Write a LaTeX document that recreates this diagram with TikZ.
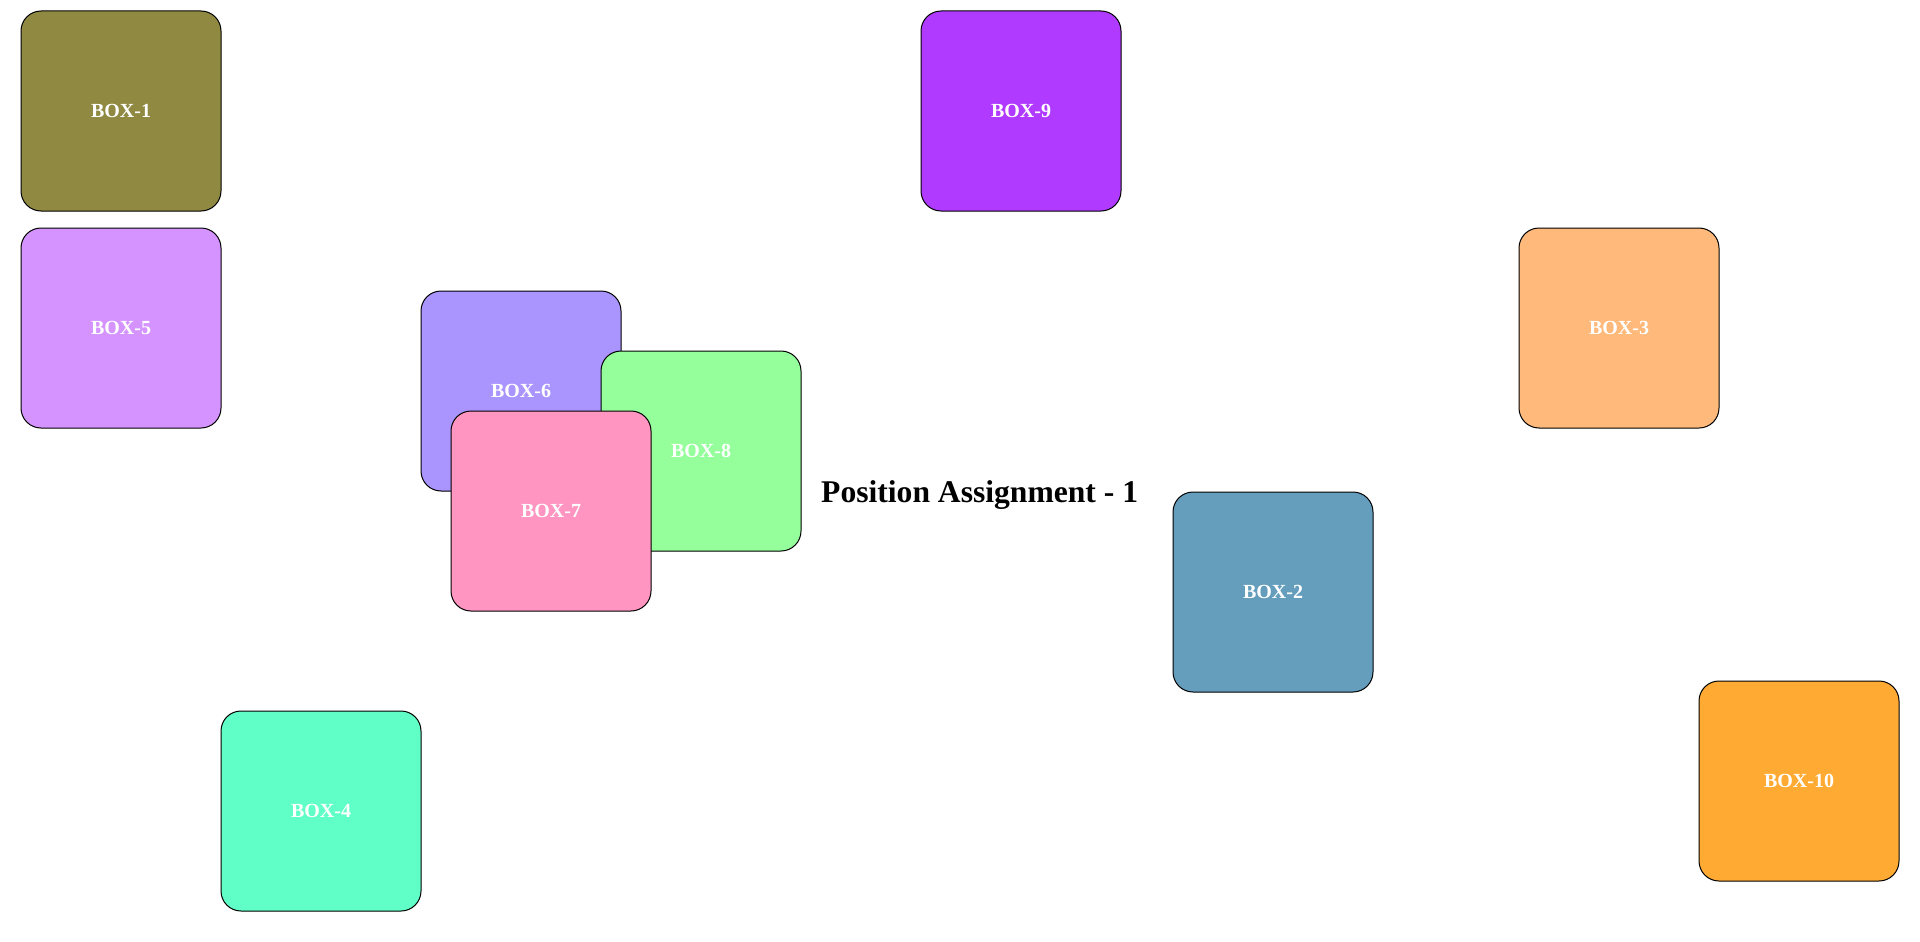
\documentclass[tikz,border=0pt]{standalone}
\usepackage{fontspec}
\setmainfont{Liberation Serif}
\definecolor{c1}{RGB}{143,137,66}
\definecolor{c2}{RGB}{101,158,189}
\definecolor{c3}{RGB}{255,185,122}
\definecolor{c4}{RGB}{96,255,200}
\definecolor{c5}{RGB}{213,147,255}
\definecolor{c6}{RGB}{170,149,255}
\definecolor{c7}{RGB}{255,149,192}
\definecolor{c8}{RGB}{149,255,155}
\definecolor{c9}{RGB}{176,58,255}
\definecolor{c10}{RGB}{255,171,51}
\tikzset{
  boxnode/.style={draw=black, line width=1pt, rounded corners=20pt, minimum width=200pt, minimum height=200pt, inner sep=0pt, text=white, font=\fontsize{20}{24}\selectfont\bfseries},
  titlenode/.style={anchor=base west, inner sep=0pt, font=\fontsize{31.6}{38}\selectfont\bfseries}
}
\newcommand{\boxlabel}[1]{\raisebox{-1.2pt}{#1}}
\begin{document}
\begin{tikzpicture}[x=1pt,y=-1pt]
\useasboundingbox (0,0) rectangle (1920,942);
\node[boxnode, fill=c1] (b1) at (121,111) {\boxlabel{BOX-1}};
\node[boxnode, fill=c5] (b5) at (121,328) {\boxlabel{BOX-5}};
\node[boxnode, fill=c9] (b9) at (1021,111) {\boxlabel{BOX-9}};
\node[boxnode, fill=c3] (b3) at (1619,328) {\boxlabel{BOX-3}};
\node[boxnode, fill=c6] (b6) at (521,391) {\boxlabel{BOX-6}};
\node[boxnode, fill=c8] (b8) at (701,451) {\boxlabel{BOX-8}};
\node[boxnode, fill=c7] (b7) at (551,511) {\boxlabel{BOX-7}};
\node[boxnode, fill=c2] (b2) at (1273,592) {\boxlabel{BOX-2}};
\node[boxnode, fill=c10] (b10) at (1799,781) {\boxlabel{BOX-10}};
\node[boxnode, fill=c4] (b4) at (321,811) {\boxlabel{BOX-4}};
\node[titlenode] (title) at (821,502) {Position Assignment - 1};
\end{tikzpicture}
\end{document}
